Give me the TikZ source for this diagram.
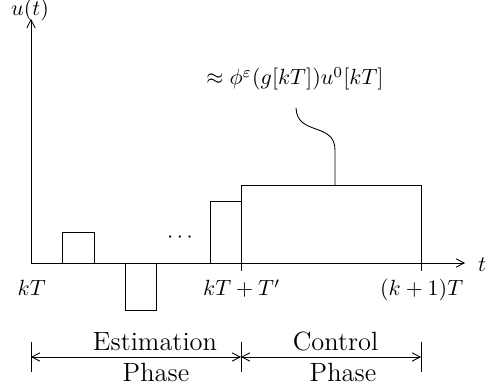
\documentclass[tikz,border=0pt]{standalone}
\usetikzlibrary{arrows.meta}
\begin{document}
\begin{tikzpicture}[x=0.4545pt,y=-0.4545pt,
  line width=0.4pt,
  barb/.tip={Straight Barb[length=3.6pt,width=3.8pt,line width=0.4pt]},
  axisline/.style={-barb},
  dimline/.style={barb-barb},
  lbl/.style={inner sep=0pt,anchor=base},
  phasetext/.style={inner sep=0pt,anchor=base,font=\large}]
\useasboundingbox (0,0) rectangle (486,391);
% axes
\coordinate (O) at (31,263);
\coordinate (xend) at (465,263);
\coordinate (yend) at (31,19);
\draw[axisline] (O) -- (xend);
\draw[axisline] (O) -- (yend);
\node[lbl] (ulab) at (30,15.5) {$u(t)$};
\node[lbl] (tlab) at (482,272) {$t$};
% pulses
\coordinate (p1a) at (62,263);  \coordinate (p1b) at (94,232);
\coordinate (p2a) at (125,263); \coordinate (p2b) at (156,310);
\coordinate (p3a) at (210,263); \coordinate (p3b) at (241,201);
\coordinate (bga) at (241,263); \coordinate (bgb) at (421,185);
\draw (p1a) rectangle (p1b);
\draw (p2a) rectangle (p2b);
\draw (p3a) rectangle (p3b);
\draw (bga) rectangle (bgb);
\node[inner sep=0pt] (dots) at (180,238) {$\cdots$};
% ticks
\coordinate (t1a) at (241,263); \coordinate (t1b) at (241,271);
\coordinate (t2a) at (421,263); \coordinate (t2b) at (421,271);
\draw (t1a) -- (t1b);
\draw (t2a) -- (t2b);
% tick labels
\node[lbl] (l0) at (31.7,296) {$kT$};
\node[lbl] (l1) at (241.7,296) {$kT+T'$};
\node[lbl] (l2) at (421.7,296) {$(k+1)T$};
% annotation
\node[lbl] (ann) at (295,85) {$\approx \phi^{\varepsilon}(g[kT])u^0[kT]$};
\coordinate (annfoot) at (296,108);
\coordinate (bigtop) at (335,185);
\draw (annfoot) .. controls (297,136) and (335,122) .. (335,150) -- (bigtop);
% phases
\coordinate (b0a) at (31,342);  \coordinate (b0b) at (31,372);
\coordinate (b1a) at (241,342); \coordinate (b1b) at (241,372);
\coordinate (b2a) at (421,342); \coordinate (b2b) at (421,372);
\draw (b0a) -- (b0b);
\draw (b1a) -- (b1b);
\draw (b2a) -- (b2b);
\coordinate (a0) at (31,357); \coordinate (a1) at (241,357); \coordinate (a2) at (421,357);
\draw[dimline] (a0) -- (a1);
\draw[dimline] (a1) -- (a2);
\node[phasetext] (est) at (155,350.5) {Estimation};
\node[phasetext] (ph1) at (156,381.5) {Phase};
\node[phasetext] (ctl) at (335.5,350.5) {Control};
\node[phasetext] (ph2) at (343,381.5) {Phase};
\end{tikzpicture}
\end{document}
